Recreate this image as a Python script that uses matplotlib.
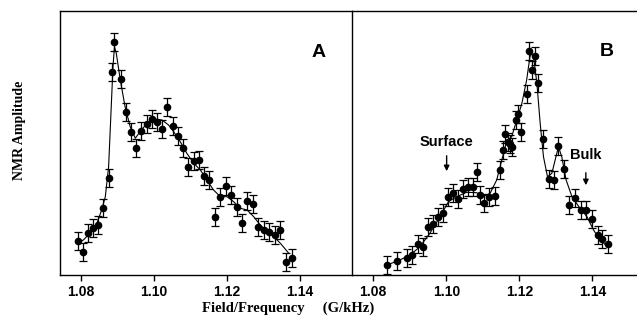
import numpy as np
import matplotlib
matplotlib.use('Agg')
import matplotlib.pyplot as plt

# Panel A: measured points
xa = [1.0792, 1.0805, 1.0819, 1.0833, 1.0846, 1.0860, 1.0876, 1.0885, 1.0891, 1.0910,
      1.0923, 1.0937, 1.0952, 1.0965, 1.0980, 1.0994, 1.1008, 1.1023, 1.1036, 1.1052,
      1.1066, 1.1079, 1.1094, 1.1109, 1.1123, 1.1138, 1.1152, 1.1166, 1.1182, 1.1196,
      1.1211, 1.1226, 1.1240, 1.1256, 1.1271, 1.1286, 1.1300, 1.1316, 1.1331, 1.1346,
      1.1362, 1.1377]
ya = [34.3, 23.3, 41.7, 46.7, 50.0, 66.7, 97.3, 203.3, 233.3, 196.0,
      163.3, 143.3, 126.7, 144.0, 151.0, 156.3, 153.3, 145.7, 167.7, 149.0,
      139.0, 126.7, 107.7, 114.3, 115.0, 99.3, 95.0, 58.3, 78.3, 89.3,
      80.0, 68.3, 52.3, 74.3, 70.7, 47.7, 45.0, 43.3, 40.0, 45.0,
      13.3, 16.7]

# Panel A: fit curve
fxa = [1.0792, 1.0807, 1.0825, 1.0844, 1.0857, 1.0867, 1.0876, 1.0882, 1.0888, 1.0892,
       1.0897, 1.0908, 1.0921, 1.0935, 1.0949, 1.0962, 1.0981, 1.1004, 1.1022, 1.1040,
       1.1054, 1.1072, 1.1090, 1.1109, 1.1127, 1.1145, 1.1163, 1.1182, 1.1200, 1.1218,
       1.1236, 1.1255, 1.1273, 1.1291, 1.1310, 1.1328, 1.1346, 1.1369]
fya = [32.3, 35.0, 41.7, 51.7, 65.0, 78.3, 108.3, 158.3, 208.3, 228.3,
       221.7, 195.0, 168.3, 148.3, 136.7, 143.3, 151.7, 155.7, 155.0, 150.0,
       143.3, 133.3, 121.7, 111.7, 105.0, 95.0, 85.0, 78.3, 78.3, 73.3,
       66.7, 65.0, 58.3, 50.0, 43.3, 38.3, 31.7, 21.7]

# Panel B: measured points
xb = [1.0838, 1.0866, 1.0893, 1.0907, 1.0922, 1.0935, 1.0949, 1.0963, 1.0976, 1.0990,
      1.1005, 1.1019, 1.1033, 1.1047, 1.1060, 1.1074, 1.1083, 1.1091, 1.1104, 1.1118,
      1.1132, 1.1147, 1.1154, 1.1161, 1.1168, 1.1175, 1.1181, 1.1190, 1.1197, 1.1205,
      1.1220, 1.1227, 1.1235, 1.1243, 1.1250, 1.1264, 1.1280, 1.1294, 1.1307, 1.1323,
      1.1337, 1.1353, 1.1368, 1.1383, 1.1398, 1.1414, 1.1427, 1.1442]
yb = [10.0, 13.5, 17.3, 20.0, 30.7, 28.3, 48.0, 50.7, 58.3, 62.3,
      77.7, 81.7, 76.3, 85.8, 87.5, 87.5, 102.7, 80.0, 72.3, 78.0,
      79.0, 105.0, 125.0, 141.0, 132.5, 130.5, 128.0, 155.0, 160.5, 143.0,
      180.5, 224.3, 205.0, 219.0, 192.3, 136.0, 96.0, 95.0, 129.0, 105.5,
      70.0, 76.7, 65.0, 65.0, 56.0, 40.0, 35.7, 31.0]

# Panel B: fit curve
fxb = [1.0838, 1.0873, 1.0901, 1.0928, 1.0955, 1.0983, 1.1006, 1.1028, 1.1056, 1.1083,
       1.1101, 1.1120, 1.1138, 1.1152, 1.1165, 1.1179, 1.1193, 1.1207, 1.1220, 1.1229,
       1.1234, 1.1240, 1.1248, 1.1257, 1.1266, 1.1277, 1.1289, 1.1298, 1.1307, 1.1316,
       1.1328, 1.1344, 1.1366, 1.1385, 1.1403, 1.1421, 1.1442]
fyb = [10.0, 15.0, 20.0, 28.3, 41.7, 58.3, 73.3, 78.3, 82.7, 82.3,
       78.3, 81.7, 95.0, 115.0, 133.3, 138.3, 155.0, 171.7, 195.0, 218.3,
       221.7, 215.0, 191.7, 151.7, 118.3, 98.3, 101.7, 115.0, 128.3, 118.3,
       95.0, 78.3, 66.7, 58.3, 45.0, 35.0, 28.3]

err = 9.0
ticks = [1.08, 1.10, 1.12, 1.14]
tick_labels = ['1.08', '1.10', '1.12', '1.14']

fig = plt.figure(figsize=(6.37, 3.22), dpi=100)
axA = fig.add_axes([0.0942, 0.146, 0.4584, 0.8199])
axB = fig.add_axes([0.5526, 0.146, 0.4474, 0.8199])

for ax, x, y, fx, fy, xlim in [(axA, xa, ya, fxa, fya, (1.0743, 1.1542)),
                               (axB, xb, yb, fxb, fyb, (1.0742, 1.1522))]:
    ax.patch.set_alpha(0)
    ax.plot(fx, fy, '-', color='k', lw=0.8)
    ax.errorbar(x, y, yerr=err, fmt='o', color='k', ms=4.5, elinewidth=0.9,
                capsize=3, capthick=0.9)
    ax.set_xlim(*xlim)
    ax.set_ylim(0, 264)
    ax.set_yticks([])
    ax.set_xticks(ticks)
    ax.set_xticklabels(tick_labels, fontfamily='Liberation Sans',
                       fontweight='bold', fontsize=10)
    ax.tick_params(axis='x', direction='out', length=4, width=1, pad=3)
    for s in ax.spines.values():
        s.set_linewidth(1)

axB.spines['right'].set_visible(False)
axB.spines['left'].set_visible(False)

axA.text(0.8846, 0.841, 'A', transform=axA.transAxes, ha='center', va='center',
         fontfamily='Liberation Sans', fontweight='bold', fontsize=14)
axB.text(0.8937, 0.846, 'B', transform=axB.transAxes, ha='center', va='center',
         fontfamily='Liberation Sans', fontweight='bold', fontsize=14)

# Peak labels with arrows
for label, lx, ly, y0, y1 in [('Surface', 1.1001, 133.3, 122, 101),
                              ('Bulk', 1.1382, 120, 105, 87)]:
    axB.text(lx, ly, label, ha='center', va='center', fontfamily='Liberation Sans',
             fontweight='bold', fontsize=10.5)
    axB.annotate('', xy=(lx, y1), xytext=(lx, y0),
                 arrowprops=dict(arrowstyle='-|>', color='k', lw=1, mutation_scale=8))

fig.text(0.453, 0.042, 'Field/Frequency     (G/kHz)', ha='center', va='center',
         fontfamily='Liberation Serif', fontweight='bold', fontsize=10.5)
fig.text(0.031, 0.596, 'NMR Amplitude', rotation=90, ha='center', va='center',
         fontfamily='Liberation Serif', fontweight='bold', fontsize=10)

fig.savefig('out.png', dpi=100)
